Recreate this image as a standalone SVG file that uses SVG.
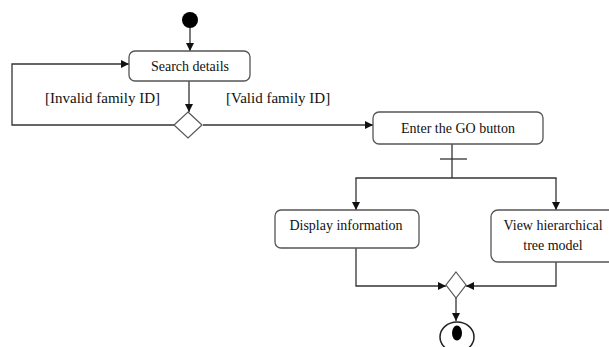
<svg xmlns="http://www.w3.org/2000/svg" width="609" height="347" viewBox="0 0 609 347">
  <style>
    .box { fill: #ffffff; stroke: #555555; stroke-width: 1.3; }
    .dec { fill: #ffffff; stroke: #555555; stroke-width: 1.2; }
    .edge { fill: none; stroke: #333333; stroke-width: 1.3; }
    .lbl { font-family: "Liberation Serif", "Times New Roman", serif; font-size: 14px; fill: #111111; text-anchor: middle; }
    .guard { font-family: "Liberation Serif", "Times New Roman", serif; font-size: 15px; fill: #111111; }
  </style>
  <defs>
    <marker id="arrow" viewBox="0 0 10 10" refX="10" refY="5" markerWidth="8" markerHeight="8" markerUnits="userSpaceOnUse" orient="auto">
      <path d="M0,0 L10,5 L0,10 z" fill="#111111"/>
    </marker>
  </defs>
  <rect width="609" height="347" fill="#ffffff"/>

  <g id="connectors">
    <line class="edge" x1="190" y1="27" x2="190" y2="51" marker-end="url(#arrow)"/>
    <line class="edge" x1="189" y1="81" x2="189" y2="112" marker-end="url(#arrow)"/>
    <polyline class="edge" points="174,125 12,125 12,64 129,64" marker-end="url(#arrow)"/>
    <line class="edge" x1="203" y1="125" x2="373" y2="125" marker-end="url(#arrow)"/>
    <!-- fork: trunk, crossbar and the two branches -->
    <line class="edge" x1="452" y1="144" x2="452" y2="178"/>
    <line class="edge" x1="440" y1="159" x2="467" y2="159"/>
    <line class="edge" x1="355.4" y1="178" x2="556.6" y2="178"/>
    <line class="edge" x1="356" y1="178" x2="356" y2="210" marker-end="url(#arrow)"/>
    <line class="edge" x1="556" y1="178" x2="556" y2="210" marker-end="url(#arrow)"/>
    <!-- join into the merge node -->
    <polyline class="edge" points="356,248 356,286 446,286" marker-end="url(#arrow)"/>
    <polyline class="edge" points="556,262 556,286 466,286" marker-end="url(#arrow)"/>
    <line class="edge" x1="456" y1="298" x2="456" y2="321" marker-end="url(#arrow)"/>
    <text class="guard" x="45" y="103">[Invalid family ID]</text>
    <text class="guard" x="226" y="103">[Valid family ID]</text>
  </g>

  <g id="start">
    <circle cx="190" cy="20" r="8" fill="#000000"/>
  </g>

  <g id="search-details">
    <rect class="box" x="129" y="51" width="121" height="30" rx="6"/>
    <text class="lbl" x="190" y="71">Search details</text>
  </g>

  <g id="id-check">
    <polygon class="dec" points="188,112 202,125 188,138 174,125"/>
  </g>

  <g id="enter-go">
    <rect class="box" x="373" y="112" width="170" height="32" rx="6"/>
    <text class="lbl" x="458" y="133">Enter the GO button</text>
  </g>

  <g id="display-information">
    <rect class="box" x="275" y="210" width="144" height="38" rx="6"/>
    <text class="lbl" x="346" y="230">Display information</text>
  </g>

  <g id="view-tree">
    <rect class="box" x="491" y="210" width="130" height="52" rx="7"/>
    <text class="lbl" x="553" y="230">View hierarchical</text>
    <text class="lbl" x="553" y="250">tree model</text>
  </g>

  <g id="merge">
    <polygon class="dec" points="456,272 466,285 456,298 446,285"/>
  </g>

  <g id="end">
    <ellipse cx="457" cy="337" rx="17" ry="15" fill="#ffffff" stroke="#222222" stroke-width="1.5"/>
    <ellipse cx="457" cy="333" rx="5" ry="7.5" fill="#000000"/>
  </g>
</svg>
